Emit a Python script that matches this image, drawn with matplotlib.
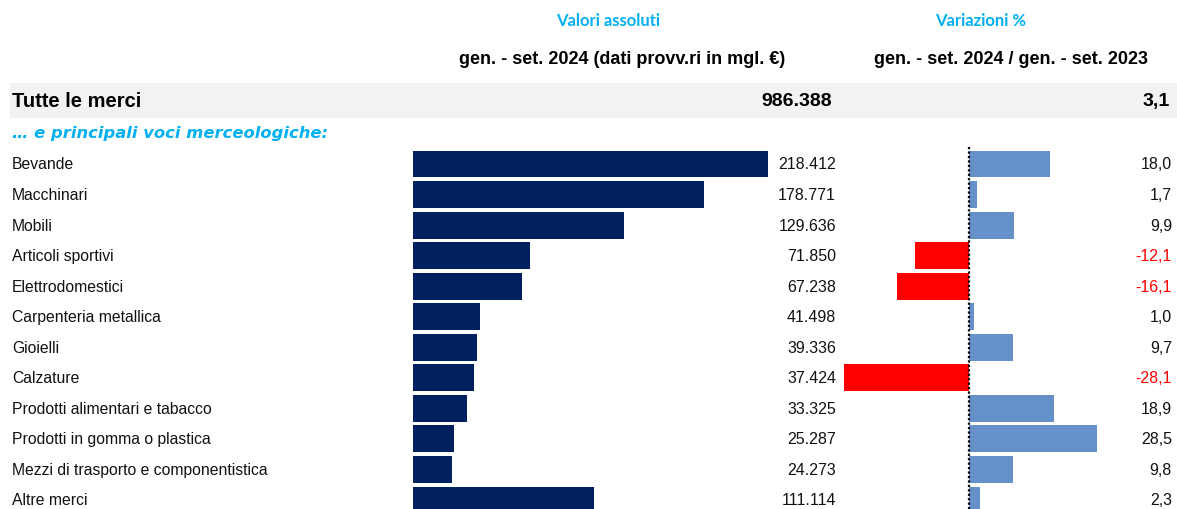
import matplotlib.pyplot as plt

# data
categories = ["Bevande", "Macchinari", "Mobili", "Articoli sportivi", "Elettrodomestici",
              "Carpenteria metallica", "Gioielli", "Calzature",
              "Prodotti alimentari e tabacco", "Prodotti in gomma o plastica",
              "Mezzi di trasporto e componentistica", "Altre merci"]
values = [218.412, 178.771, 129.636, 71.850, 67.238, 41.498, 39.336, 37.424,
          33.325, 25.287, 24.273, 111.114]
changes = [18.0, 1.7, 9.9, -12.1, -16.1, 1.0, 9.7, -28.1, 18.9, 28.5, 9.8, 2.3]
total_label = "Tutte le merci"
total_value = "986.388"
total_change = "3,1"

W, H = 1177, 510
NAVY = "#002060"
LIGHT = "#6690C8"
CYAN = "#00B0F0"

plt.rcParams['font.family'] = ['Liberation Sans', 'DejaVu Sans']

fig = plt.figure(figsize=(W / 100, H / 100), dpi=100)

# row geometry: row 0 centred at 165 px from top, pitch ~30.5 px
y0, pitch = 165, 30.545
def row(px):
    return (px - y0) / pitch
ylim = (row(H), row(0))

# background axes for the text and the grey band
bg = fig.add_axes([0, 0, 1, 1])
bg.set_xlim(0, W)
bg.set_ylim(*ylim)
bg.axis("off")
bg.axhspan(row(119), row(84), xmin=10 / W, xmax=1, color="#F2F2F2", lw=0)

# left panel: absolute values
ax1 = fig.add_axes([413 / W, 0, (835 - 413) / W, 1])
ax1.set_xlim(0, (835 - 413) / 1.625)
ax1.set_ylim(*ylim)
ax1.axis("off")
pos = list(range(len(categories)))
ax1.barh(pos, values, height=0.88, color=NAVY)

# right panel: % change
ax2 = fig.add_axes([835 / W, 0, (W - 835) / W, 1])
ax2.set_xlim(-30, (W - 968.5) / 4.5)
ax2.set_ylim(*ylim)
ax2.axis("off")
ax2.barh(pos, changes, height=0.88,
         color=[LIGHT if c >= 0 else "red" for c in changes])
ax2.vlines(0, row(148), row(H), colors="black", linestyles=(0, (1, 1)), lw=1.6)

for i, (name, v, c) in enumerate(zip(categories, values, changes)):
    bg.text(12, i, name, va="center", ha="left", fontsize=11.3, color="#111111")
    bg.text(836, i, f"{v:,.3f}".replace(",", "."), va="center", ha="right",
            fontsize=11.5, color="#111111")
    bg.text(1172, i, f"{c:.1f}".replace(".", ","), va="center", ha="right", fontsize=11.5,
            color="red" if c < 0 else "#111111")

# total row
bg.text(12, row(102), total_label, va="center", ha="left", fontsize=14.5, fontweight="bold")
bg.text(832, row(102), total_value, va="center", ha="right", fontsize=14, fontweight="bold")
bg.text(1170, row(102), total_change, va="center", ha="right", fontsize=14, fontweight="bold")

bg.text(12, row(134), "… e principali voci merceologiche:", va="center", ha="left",
        fontsize=11.8, fontweight="bold", fontstyle="italic", color=CYAN,
        family=["DejaVu Sans"])

# headers
bg.text(608, row(21), "Valori assoluti", va="center", ha="center", fontsize=12,
        fontweight="bold", color=CYAN, family=["Lato", "DejaVu Sans"])
bg.text(981, row(21), "Variazioni %", va="center", ha="center", fontsize=12,
        fontweight="bold", color=CYAN, family=["Lato", "DejaVu Sans"])
bg.text(622, row(60), "gen. - set. 2024 (dati provv.ri in mgl. €)", va="center",
        ha="center", fontsize=13, fontweight="bold",
        family=["Liberation Sans Narrow", "Liberation Sans"])
bg.text(1011, row(60), "gen. - set. 2024 / gen. - set. 2023", va="center",
        ha="center", fontsize=13, fontweight="bold",
        family=["Liberation Sans Narrow", "Liberation Sans"])

fig.savefig("out.png", dpi=100)
